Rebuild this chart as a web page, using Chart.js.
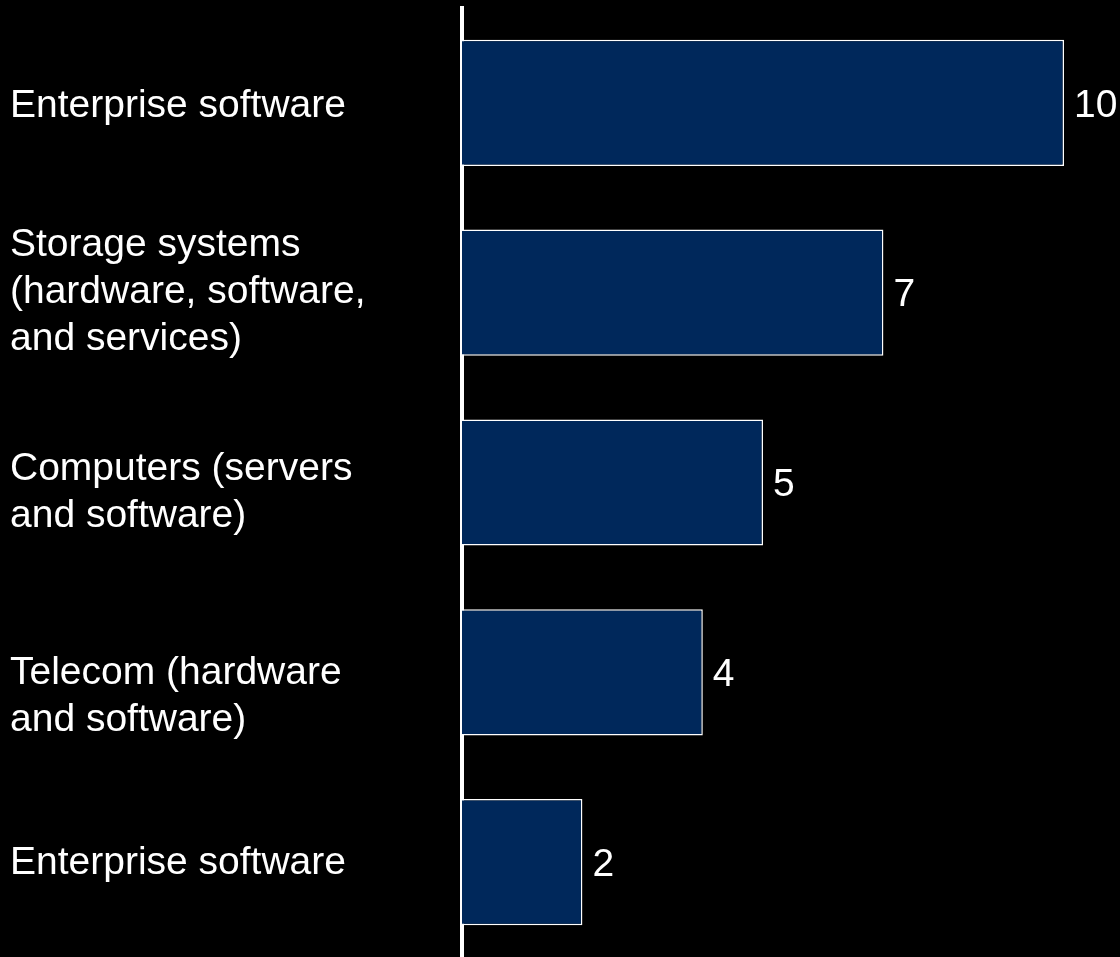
<!DOCTYPE html>
<html>
<head>
<meta charset="utf-8">
<script src="https://cdn.jsdelivr.net/npm/chart.js@4/dist/chart.umd.min.js"></script>
<style>
  html, body { margin: 0; padding: 0; background: #000; }
  canvas { display: block; }
</style>
</head>
<body>
<canvas id="chart" width="1120" height="957"></canvas>
<script>
const categories = [
  ['Enterprise software'],
  ['Storage systems', '(hardware, software,', 'and services)'],
  ['Computers (servers', 'and software)'],
  ['Telecom (hardware', 'and software)'],
  ['Enterprise software']
];
const values = [10, 7, 5, 4, 2];

const FONT = '"Liberation Sans", Arial, sans-serif';
const FONT_SIZE = 39;
const LINE_HEIGHT = 47;
// small vertical nudges for the category text blocks
const labelNudge = [3, 0, 10, 24, 1];

const blackBackground = {
  id: 'blackBackground',
  beforeDraw(chart) {
    const ctx = chart.ctx;
    ctx.save();
    ctx.fillStyle = '#000';
    ctx.fillRect(0, 0, chart.width, chart.height);
    ctx.restore();
  }
};

// category names, left aligned in the space left of the axis
const categoryLabels = {
  id: 'categoryLabels',
  afterDraw(chart) {
    const ctx = chart.ctx;
    const yScale = chart.scales.y;
    ctx.save();
    ctx.fillStyle = '#fff';
    ctx.font = FONT_SIZE + 'px ' + FONT;
    ctx.textAlign = 'left';
    ctx.textBaseline = 'middle';
    categories.forEach((lines, i) => {
      const center = yScale.getPixelForTick(i) + labelNudge[i];
      const start = center - (lines.length - 1) * LINE_HEIGHT / 2;
      lines.forEach((line, j) => {
        ctx.fillText(line, 10, start + j * LINE_HEIGHT);
      });
    });
    ctx.restore();
  }
};

// value printed just right of each bar
const valueLabels = {
  id: 'valueLabels',
  afterDatasetsDraw(chart) {
    const ctx = chart.ctx;
    const meta = chart.getDatasetMeta(0);
    ctx.save();
    ctx.fillStyle = '#fff';
    ctx.font = FONT_SIZE + 'px ' + FONT;
    ctx.textAlign = 'left';
    ctx.textBaseline = 'middle';
    meta.data.forEach((bar, i) => {
      ctx.fillText(String(values[i]), bar.x + 10, bar.y + 3);
    });
    ctx.restore();
  }
};

new Chart(document.getElementById('chart'), {
  type: 'bar',
  data: {
    labels: categories,
    datasets: [{
      data: values,
      backgroundColor: '#00285B',
      borderColor: '#ffffff',
      borderWidth: 1.5,
      barPercentage: 0.665,
      categoryPercentage: 1
    }]
  },
  options: {
    indexAxis: 'y',
    responsive: false,
    animation: false,
    layout: { padding: { left: 10, top: 8, right: 0, bottom: 0 } },
    plugins: {
      legend: { display: false },
      tooltip: { enabled: false }
    },
    scales: {
      x: {
        display: false,
        min: 0,
        max: 10.93
      },
      y: {
        grid: { display: false, drawTicks: false },
        border: { display: true, color: '#ffffff', width: 4 },
        ticks: { display: false },
        afterFit(scale) {
          scale.width = 452;
          scale.paddingTop = 0;
          scale.paddingBottom = 0;
        }
      }
    }
  },
  plugins: [blackBackground, categoryLabels, valueLabels]
});
</script>
</body>
</html>
